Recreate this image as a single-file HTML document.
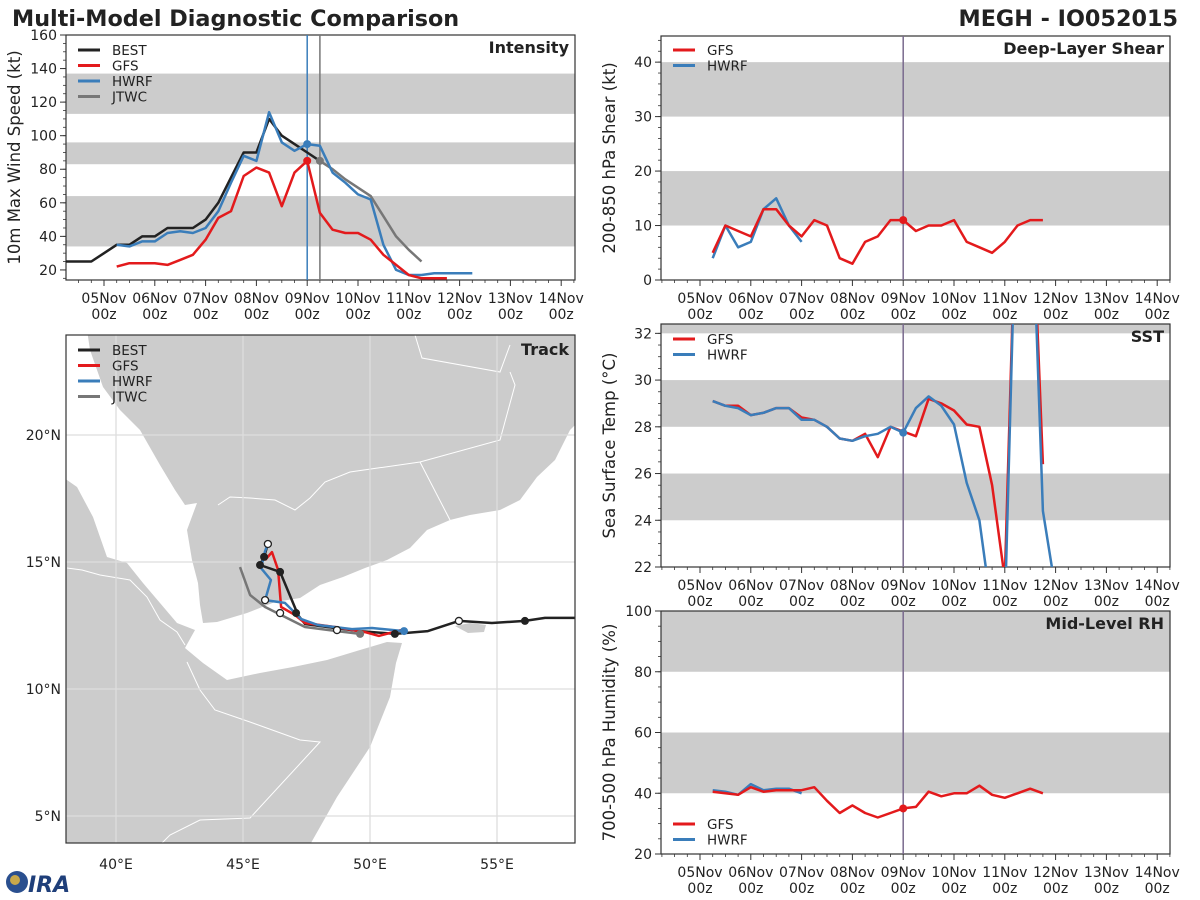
<!DOCTYPE html>
<html><head><meta charset="utf-8">
<style>
html,body{margin:0;padding:0;background:#fff;width:1200px;height:900px;overflow:hidden;}
svg{display:block;font-family:"DejaVu Sans","Liberation Sans",sans-serif;}
</style></head>
<body>
<svg id="chart" width="1200" height="900" viewBox="0 0 1200 900" xmlns="http://www.w3.org/2000/svg">
<text x="12" y="26" font-size="22.3" font-weight="bold" fill="#222">Multi-Model Diagnostic Comparison</text>
<text x="1178" y="26" font-size="22.3" font-weight="bold" fill="#222" text-anchor="end">MEGH - IO052015</text>
<g id="root"></g>
<g>
<circle cx="17" cy="882" r="11" fill="#2a4f8f"/>
<circle cx="15" cy="880" r="5" fill="#c9a84a"/>
<text x="28" y="892" font-size="22" font-weight="bold" fill="#1f3f7a" font-style="italic">IRA</text>
</g>
</svg>
<script>
// ---------- DATA ----------
const days = ["05Nov","06Nov","07Nov","08Nov","09Nov","10Nov","11Nov","12Nov","13Nov","14Nov"];
const intTicks = [20,40,60,80,100,120,140,160];
const shearTicks = [0,10,20,30,40];
const sstTicks = [22,24,26,28,30,32];
const rhTicks = [20,40,60,80,100];

const bestIntStart = -0.75;
const bestInt = [25,25,25,30,35,35,40,40,45,45,45,50,60,75,90,90,110,100,95,90,85];
const gfsIntStart = 0.25;
const gfsInt = [22,24,24,24,23,26,29,38,51,55,76,81,78,58,78,85,54,44,42,42,38,29,23,17,15,15,15];
const hwrfIntStart = 0.25;
const hwrfInt = [35,34,37,37,42,43,42,45,55,72,88,85,114,96,91,95,94,78,72,65,62,35,20,17,17,18,18,18,18];
const jtwcIntStart = 4.25;
const jtwcInt = [85,80,74,69,64,52,40,32,25];

const gfsShear = [5,10,9,8,13,13,10,8,11,10,4,3,7,8,11,11,9,10,10,11,7,6,5,7,10,11,11];
const hwrfShear = [4,10,6,7,13,15,10,7];

const gfsSST = [29.1,28.9,28.9,28.5,28.6,28.8,28.8,28.4,28.3,28.0,27.5,27.4,27.7,26.7,28.0,27.8,27.6,29.2,29.0,28.7,28.1,28.0,25.5,21.5,40,40,26.4];
const hwrfSST = [29.1,28.9,28.8,28.5,28.6,28.8,28.8,28.3,28.3,28.0,27.5,27.4,27.6,27.7,28.0,27.75,28.8,29.3,28.9,28.1,25.6,24.0,20,20,40,40,24.4,21];

const gfsRH = [40.5,40,39.5,42,40.5,41,41,41,42,37.5,33.5,36,33.5,32,33.5,35,35.5,40.5,39,40,40,42.5,39.5,38.5,40,41.5,40];
const hwrfRH = [41,40.5,39.5,43,41,41.5,41.5,40];

const bestTrackLon = [58.07,56.89,56.10,54.80,53.50,52.28,50.98,49.60,48.62,47.44,47.17,46.46,45.67,45.83,45.98];
const bestTrackLat = [12.80,12.80,12.68,12.60,12.68,12.28,12.17,12.28,12.40,12.56,12.91,14.61,14.88,15.20,15.71];
const gfsTrackLon = [51.22,50.35,49.80,48.62,47.44,47.05,46.50,46.38,46.14,45.87];
const gfsTrackLat = [12.32,12.09,12.24,12.44,12.60,12.91,13.23,14.69,15.39,15.08];
const hwrfTrackLon = [51.34,50.08,49.29,47.95,47.28,46.65,45.87,46.10,45.71,45.87,45.98];
const hwrfTrackLat = [12.28,12.40,12.36,12.52,12.76,13.39,13.50,14.29,14.76,15.43,15.71];
const jtwcTrackLon = [49.61,48.70,47.44,45.87,45.28,44.88];
const jtwcTrackLat = [12.17,12.28,12.44,13.23,13.70,14.80];
const openMarkLon = [53.50,45.98,45.87,46.46,48.70];
const openMarkLat = [12.68,15.71,13.50,12.99,12.32];
const filledMarkLon = [56.10,50.98,47.09,46.46,45.67,45.83];
const filledMarkLat = [12.68,12.17,12.99,14.61,14.88,15.20];

// ---------- DRAW ----------
const NS = "http://www.w3.org/2000/svg";
const root = document.getElementById("root");
const C = {best:"#222222", gfs:"#e31a1c", hwrf:"#3a7dba", jtwc:"#777777"};
function mk(tag, attrs, parent){
  const e = document.createElementNS(NS, tag);
  for (const k in attrs) e.setAttribute(k, attrs[k]);
  (parent||root).appendChild(e);
  return e;
}
function txt(x,y,s,size,anchor,parent,extra){
  const t = mk("text",Object.assign({x:x,y:y,"font-size":size,fill:"#222","text-anchor":anchor||"start"},extra||{}),parent);
  t.textContent = s;
  return t;
}

function panel(id, x0, x1, y0, y1, x05, vmin, vmax, vTickVals, bands, ylabel, title, minorStep){
  const g = mk("g",{});
  
  
  const dayW = 50.8;
  const xs = d => x05 + d*dayW;
  const ys = v => y1 - (v - vmin)/(vmax - vmin)*(y1 - y0);
  const clipId = "clip-" + id;
  const cp = mk("clipPath",{id:clipId},g);
  mk("rect",{x:x0,y:y0,width:x1-x0,height:y1-y0},cp);
  bands.forEach(b=>{
    const top = Math.min(b[1], vmax), bot = Math.max(b[0], vmin);
    const r = mk("rect",{x:x0,y:ys(top),width:x1-x0,height:ys(bot)-ys(top),fill:"#cccccc"},g);
    
    
  });
  mk("rect",{x:x0,y:y0,width:x1-x0,height:y1-y0,fill:"none",stroke:"#333","stroke-width":1.2},g);
  vTickVals.forEach(v=>{
    mk("line",{x1:x0-6,x2:x0,y1:ys(v),y2:ys(v),stroke:"#333","stroke-width":1},g);
    const t = txt(x0-9, ys(v)+5, String(v), 14, "end", g);
    
    
  });
  for (let v = vmin - (vmin % minorStep); v <= vmax; v += minorStep){
    if (v < vmin) continue;
    mk("line",{x1:x0-3,x2:x0,y1:ys(v),y2:ys(v),stroke:"#333","stroke-width":0.8},g);
  }
  days.forEach((d,i)=>{
    const x = xs(i);
    mk("line",{x1:x,x2:x,y1:y1,y2:y1+6,stroke:"#333","stroke-width":1},g);
    const t1 = txt(x, y1+23, d, 14, "middle", g);
    
    
    txt(x, y1+39, "00z", 14, "middle", g);
  });
  for (let q = -3; q <= 37; q++){
    const x = xs(q/4);
    if (x < x0 || x > x1 || q % 4 === 0) continue;
    mk("line",{x1:x,x2:x,y1:y1,y2:y1+3,stroke:"#333","stroke-width":0.8},g);
  }
  const yl = txt(0,0,ylabel,16.5,"middle",g,{transform:`translate(${x0-46},${(y0+y1)/2}) rotate(-90)`});
  
  
  const tt = txt(x1-6, y0+18, title, 16, "end", g, {"font-weight":"bold"});
  
  
  const plot = mk("g",{"clip-path":`url(#${clipId})`},g);
  return {g, plot, xs, ys};
}
function series(P, start, vals, color, name, w){
  const pts = vals.map((v,i)=> P.xs(start + i*0.25).toFixed(1) + "," + P.ys(v).toFixed(1)).join(" ");
  const l = mk("polyline",{points:pts,fill:"none",stroke:color,"stroke-width":w||2.5,"stroke-linejoin":"round"},P.plot);
  
  
}
function dot(P, d, v, color, name){
  const c = mk("circle",{cx:P.xs(d),cy:P.ys(v),r:4,fill:color},P.plot);
  
  
}
function vline(P, d, color, name){
  const l = mk("line",{x1:P.xs(d),x2:P.xs(d),y1:0,y2:900,stroke:color,"stroke-width":1.5},P.plot);
  
  
}
function legend(parent, x, y, items){
  const g = mk("g",{},parent);
  
  
  items.forEach((it,i)=>{
    const yy = y + i*15.5;
    const e = mk("g",{},g);
    
    
    mk("line",{x1:x,x2:x+22,y1:yy,y2:yy,stroke:it[1],"stroke-width":3},e);
    txt(x+34, yy+5, it[0], 13.5, "start", e);
  });
}

const PI = panel("intensity",66,575,35,280,104,14.0,160,intTicks,[[34,64],[83,96],[113,137]],"10m Max Wind Speed (kt)","Intensity",5);
vline(PI, 4, C.hwrf, "hwrf-init-line");
vline(PI, 4.25, C.jtwc, "jtwc-init-line");
series(PI, bestIntStart, bestInt, C.best, "best-intensity-line");
series(PI, jtwcIntStart, jtwcInt, C.jtwc, "jtwc-intensity-line");
series(PI, hwrfIntStart, hwrfInt, C.hwrf, "hwrf-intensity-line");
series(PI, gfsIntStart, gfsInt, C.gfs, "gfs-intensity-line");
dot(PI, 4, gfsInt[15], C.gfs, "gfs-init-marker");
dot(PI, 4, hwrfInt[15], C.hwrf, "hwrf-init-marker");
dot(PI, 4.25, jtwcInt[0], C.jtwc, "jtwc-init-marker");
legend(PI.g, 78, 50, [["BEST",C.best],["GFS",C.gfs],["HWRF",C.hwrf],["JTWC",C.jtwc]]);

const PS = panel("shear",661,1170,36,280,700,0,44.8,shearTicks,[[10,20],[30,40]],"200-850 hPa Shear (kt)","Deep-Layer Shear",2);
vline(PS, 4, "#7a6a8e", "init-time-line");
series(PS, 0.25, hwrfShear, C.hwrf, "hwrf-shear-line");
series(PS, 0.25, gfsShear, C.gfs, "gfs-shear-line");
dot(PS, 4, gfsShear[15], C.gfs, "gfs-shear-marker");
legend(PS.g, 673, 50, [["GFS",C.gfs],["HWRF",C.hwrf]]);

const PT = panel("sst",661,1170,324,567,700,22,32.4,sstTicks,[[24,26],[28,30],[32,40]],"Sea Surface Temp (°C)","SST",0.5);
vline(PT, 4, "#7a6a8e", "init-time-line");
series(PT, 0.25, gfsSST, C.gfs, "gfs-sst-line");
series(PT, 0.25, hwrfSST, C.hwrf, "hwrf-sst-line");
dot(PT, 4, hwrfSST[15], C.hwrf, "hwrf-sst-marker");
legend(PT.g, 673, 339, [["GFS",C.gfs],["HWRF",C.hwrf]]);

const PR = panel("rh",661,1170,611,854,700,20,100,rhTicks,[[40,60],[80,100]],"700-500 hPa Humidity (%)","Mid-Level RH",5);
vline(PR, 4, "#7a6a8e", "init-time-line");
series(PR, 0.25, hwrfRH, C.hwrf, "hwrf-rh-line");
series(PR, 0.25, gfsRH, C.gfs, "gfs-rh-line");
dot(PR, 4, gfsRH[15], C.gfs, "gfs-rh-marker");
legend(PR.g, 673, 824, [["GFS",C.gfs],["HWRF",C.hwrf]]);

(function(){
  const x0=66,x1=575,y0=335,y1=843;
  const lon = v => 116 + (v-40)*25.4;
  const lat = v => 435 - (v-20)*25.4;
  const g = mk("g",{});
  
  
  const cp = mk("clipPath",{id:"clip-map"},g);
  mk("rect",{x:x0,y:y0,width:x1-x0,height:y1-y0},cp);
  const m = mk("g",{"clip-path":"url(#clip-map)"},g);
  mk("rect",{x:x0,y:y0,width:x1-x0,height:y1-y0,fill:"#fff"},m);
  const arabia = mk("polygon",{fill:"#cccccc",points:
    "87,330 90,350 103,387 120,410 140,430 160,465 175,490 185,505 197,503 187,530 192,560 198,583 200,605 203,623 217,622 247,613 275,602 300,598 320,585 343,577 365,568 387,560 410,548 427,530 450,520 470,515 500,510 520,500 537,477 555,460 570,430 580,420 580,330"},m);
  
  
  const africa = mk("polygon",{fill:"#cccccc",points:
    "60,475 67,480 77,487 93,517 107,557 127,563 143,583 160,603 177,623 195,630 185,648 203,663 227,680 260,673 293,667 327,660 360,650 387,642 402,643 396,663 390,697 370,747 337,797 307,850 60,850"},m);
  
  
  mk("polygon",{fill:"#cccccc",points:"455,626 470,623 486,625 484,632 468,633"},m);
  const bd = "fill:none;stroke:#fff;stroke-width:1";
  ["415,335 422,358 500,372 510,345","510,372 515,385 500,440 420,462 350,472 325,482 310,498 295,510 275,500 250,498 230,497 218,505","420,462 450,520","67,568 82,570 100,575 130,580 147,597 160,620 177,632 185,645","187,662 200,690 215,710 250,722 300,740 320,742 250,818 200,820 170,835 160,845"].forEach(p=>{
    mk("polyline",{points:p,style:bd},m);
  });
  [40,45,50,55].forEach(v=>{
    mk("line",{x1:lon(v),x2:lon(v),y1:y0,y2:y1,stroke:"#dddddd","stroke-width":1.3},m);
    const t = txt(lon(v), y1+26, v+"°E", 14, "middle", g);
    
    
  });
  [5,10,15,20].forEach(v=>{
    mk("line",{x1:x0,x2:x1,y1:lat(v),y2:lat(v),stroke:"#dddddd","stroke-width":1.3},m);
    const t = txt(x0-5, lat(v)+5, v+"°N", 14, "end", g);
    
    
  });
  function trk(lons, lats, color, name){
    const pts = lons.map((v,i)=> lon(v).toFixed(1)+","+lat(lats[i]).toFixed(1)).join(" ");
    const l = mk("polyline",{points:pts,fill:"none",stroke:color,"stroke-width":2.5,"stroke-linejoin":"round"},m);
    
    
  }
  trk(bestTrackLon,bestTrackLat,C.best,"best-track");
  trk(jtwcTrackLon,jtwcTrackLat,C.jtwc,"jtwc-track");
  trk(gfsTrackLon,gfsTrackLat,C.gfs,"gfs-track");
  trk(hwrfTrackLon,hwrfTrackLat,C.hwrf,"hwrf-track");
  filledMarkLon.forEach((v,i)=>{
    const c = mk("circle",{cx:lon(v),cy:lat(filledMarkLat[i]),r:4,fill:"#222"},m);
    
    
  });
  openMarkLon.forEach((v,i)=>{
    const c = mk("circle",{cx:lon(v),cy:lat(openMarkLat[i]),r:3.5,fill:"#fff",stroke:"#222","stroke-width":1.3},m);
    
    
  });
  mk("circle",{cx:lon(jtwcTrackLon[0]),cy:lat(jtwcTrackLat[0]),r:4,fill:C.jtwc},m);
  mk("circle",{cx:lon(hwrfTrackLon[0]),cy:lat(hwrfTrackLat[0]),r:4,fill:C.hwrf},m);
  mk("rect",{x:x0,y:y0,width:x1-x0,height:y1-y0,fill:"none",stroke:"#333","stroke-width":1.2},g);
  const tt = txt(x1-6, y0+20, "Track", 16, "end", g, {"font-weight":"bold"});
  
  
  legend(g, 78, 350, [["BEST",C.best],["GFS",C.gfs],["HWRF",C.hwrf],["JTWC",C.jtwc]]);
})();
</script>
</body></html>
